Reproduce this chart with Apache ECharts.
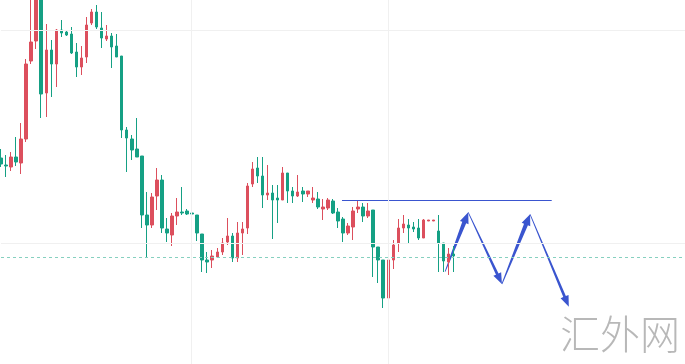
<!DOCTYPE html>
<html><head><meta charset="utf-8">
<script src="https://cdn.jsdelivr.net/npm/echarts@6/dist/echarts.min.js"></script>
<style>html,body{margin:0;padding:0;background:#fff}#c{width:685px;height:364px}</style>
</head><body><div id="c"></div>
<script>
// Candle values (price units, chart spans 0..364)
const opens  = [206,199,197,207,201,225,303,323,372,271,314,300,334,332,330,312,297,307,341,352,336,325,328,318,308,234,225,215,208,149,139,168,184,135,129,148,152,153,151,149,130,104,104,107,112,122,128,106,131,136,180,196,188,169,171,166,164,191,173,168,173,170,164,165,155,156,163,152,145,131,137,155,157,148,154,117,104,66,104,121,136,139,137,136,126,143,143,133,121,102,110];
const closes = [200,198,207,202,225,300,322,372,270,314,300,334,331,329,311,297,306,339,352,337,326,328,317,307,234,226,214,207,149,139,167,184,136,131,148,152,151,150,150,131,104,102,108,112,121,128,106,131,135,178,195,188,169,171,164,164,191,173,168,172,170,173,166,157,157,164,151,143,131,138,153,157,148,153,117,104,66,104,119,136,140,136,135,126,144,144,144,121,103,110,108];
const lows   = [197,187,193,198,190,222,300,315,246,247,267,277,327,328,310,287,289,301,339,335,316,323,296,307,226,192,204,207,136,107,136,154,131,122,118,139,149,149,142,123,92,91,96,106,109,119,102,102,109,130,177,181,156,164,125,141,164,161,161,167,162,167,161,155,144,154,150,136,122,129,124,151,142,146,87,81,56,62,95,112,131,121,132,124,126,143,143,92,92,89,92];
const highs  = [215,209,212,227,241,305,369,379,379,340,324,335,344,333,337,321,318,347,355,359,352,339,331,330,308,237,229,246,208,172,171,196,189,146,151,166,177,155,160,149,130,112,114,116,126,146,131,142,142,181,202,207,207,199,179,179,197,191,177,189,177,173,177,172,165,166,165,156,147,141,157,163,161,161,154,117,104,109,124,145,149,145,142,145,145,144,144,149,121,116,118];

// Time slots (the chart leaves empty room on the right)
const slotCount = 137;
const categories = [];
for (let i = 1; i <= slotCount; i++) categories.push('K' + i);

// Annotations (slot index, price)
const resistanceLevel = 163.5;
const resistanceSlots = [67.8, 109.5];
const supportLevel = 106.5;
const gridLevels = [333.5, 120.5];
const gridSlots = [37.9, 76.9];
const pathSlots  = [88.3, 92.9, 99.6, 105.2, 112.9];
const pathLevels = [92.3, 151.7, 80, 149.7, 57.3];
const watermark = '汇外网';

const candleData = categories.map((c, i) => i < opens.length ? [opens[i], closes[i], lows[i], highs[i]] : '-');
const segments = [];
for (let i = 0; i < pathSlots.length - 1; i++) segments.push([pathSlots[i], pathLevels[i], pathSlots[i+1], pathLevels[i+1]]);

const UP = '#dc4f5d', DOWN = '#15a084', BLUE = '#3a55cf';

const chart = echarts.init(document.getElementById('c'));
chart.setOption({
  animation: false,
  backgroundColor: '#ffffff',
  title: {
    text: watermark, left: 555, top: 309,
    textStyle: { fontSize: 40, fontWeight: 300, color: '#b8b8b8', fontFamily: 'Noto Sans CJK SC' }
  },
  grid: { left: 1, right: 0, top: 0, bottom: 0 },
  xAxis: [
    { type: 'category', data: categories, boundaryGap: false, show: false },
    { type: 'value', min: 0, max: slotCount - 1, show: false }
  ],
  yAxis: [{ type: 'value', min: 0, max: 364, show: false }],
  series: [
    {
      type: 'line', xAxisIndex: 1, yAxisIndex: 0, data: [], silent: true,
      markLine: {
        silent: true, symbol: 'none', label: { show: false }, animation: false,
        lineStyle: { color: '#f0f0f0', width: 1, type: 'solid' },
        data: gridLevels.map(v => ({ yAxis: v })).concat(gridSlots.map(v => ({ xAxis: v })))
      }
    },
    {
      type: 'line', xAxisIndex: 1, yAxisIndex: 0, data: [], silent: true,
      markLine: {
        silent: true, symbol: 'none', label: { show: false }, animation: false,
        lineStyle: { color: '#86d0bf', width: 1, type: [3, 3] },
        data: [{ yAxis: supportLevel }]
      }
    },
    {
      type: 'candlestick', xAxisIndex: 0, yAxisIndex: 0, data: candleData,
      barWidth: 3,
      itemStyle: { color: UP, color0: DOWN, borderColor: UP, borderColor0: DOWN, borderWidth: 1 }
    },
    {
      type: 'line', xAxisIndex: 1, yAxisIndex: 0, silent: true,
      data: resistanceSlots.map(s => [s, resistanceLevel]),
      showSymbol: false, symbol: 'none',
      lineStyle: { color: BLUE, width: 1 }
    },
    {
      type: 'custom', xAxisIndex: 1, yAxisIndex: 0, silent: true,
      data: segments, encode: { x: [0, 2], y: [1, 3] },
      renderItem: function (params, api) {
        const a = api.coord([api.value(0), api.value(1)]);
        const b = api.coord([api.value(2), api.value(3)]);
        const dx = b[0] - a[0], dy = b[1] - a[1];
        const L = Math.sqrt(dx * dx + dy * dy);
        const ux = dx / L, uy = dy / L, nx = -uy, ny = ux;
        const up = dy < 0;
        const w0 = 0.4, w1 = up ? 2.1 : 1.4, hw = up ? 4.6 : 4.3, hl = 11;
        const bx = b[0] - ux * hl, by = b[1] - uy * hl;
        const pts = [
          [a[0] + nx * w0, a[1] + ny * w0],
          [bx + nx * w1, by + ny * w1],
          [bx + nx * hw, by + ny * hw],
          [b[0], b[1]],
          [bx - nx * hw, by - ny * hw],
          [bx - nx * w1, by - ny * w1],
          [a[0] - nx * w0, a[1] - ny * w0]
        ];
        return { type: 'polygon', shape: { points: pts }, style: { fill: BLUE } };
      }
    }
  ]
});
</script>
</body></html>
